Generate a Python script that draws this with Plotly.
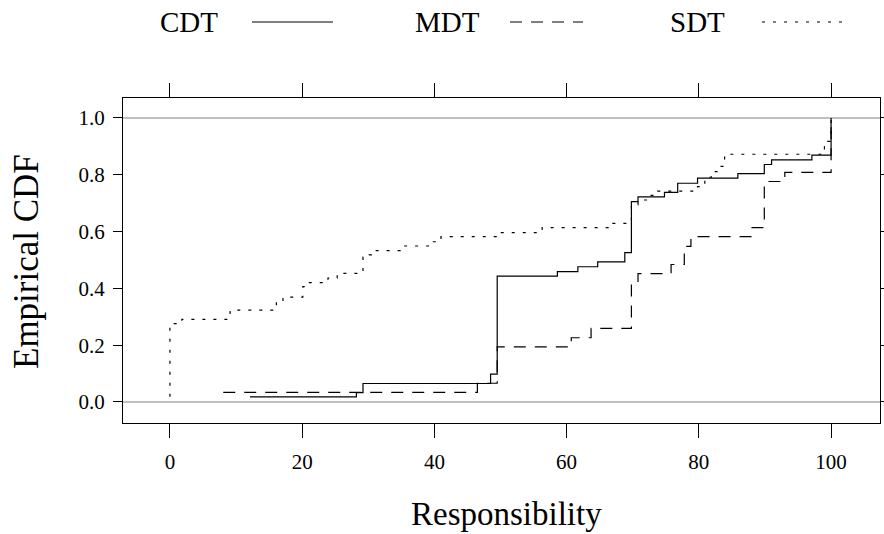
import plotly.graph_objects as go

# ECDF step points (x = responsibility, F = cumulative proportion)
cdt_x = [12.1, 28.2, 29.2, 48.5, 49.5, 58.6, 61.7, 64.7, 68.8, 69.8, 70.8, 74.8, 76.8, 79.8, 85.9, 89.9, 91.0, 97.1, 100.0]
cdt_F = [0.018, 0.033, 0.065, 0.098, 0.443, 0.459, 0.476, 0.493, 0.526, 0.705, 0.722, 0.738, 0.770, 0.788, 0.804, 0.836, 0.852, 0.869, 1.0]

mdt_x = [8.06, 46.5, 49.5, 60.7, 63.7, 69.8, 70.8, 75.8, 77.8, 78.8, 87.9, 89.9, 93.0, 100.0]
mdt_F = [0.034, 0.066, 0.194, 0.226, 0.259, 0.420, 0.452, 0.484, 0.548, 0.582, 0.614, 0.776, 0.808, 1.0]

sdt_x = [0.0, 0.0, 1.8, 9.1, 16.1, 17.1, 20.1, 20.5, 23.9, 25.3, 29.2, 30.1, 31.0, 35.4, 39.5, 40.4, 41.0,
         49.6, 56.3, 66.5, 69.8, 70.8, 72.5, 73.8, 79.8, 80.9, 81.9, 82.9, 83.9, 99.0, 99.5, 100.0]
sdt_F = [0.018, 0.276, 0.291, 0.323, 0.353, 0.369, 0.406, 0.420, 0.436, 0.453, 0.510, 0.518, 0.533, 0.549, 0.564, 0.576, 0.582,
         0.596, 0.614, 0.629, 0.694, 0.711, 0.727, 0.742, 0.758, 0.791, 0.811, 0.829, 0.872, 0.899, 0.917, 1.0]

series_names = ["CDT", "MDT", "SDT"]
x_ticks = [0, 20, 40, 60, 80, 100]
y_ticks = [0.0, 0.2, 0.4, 0.6, 0.8, 1.0]
y_tick_labels = ["0.0", "0.2", "0.4", "0.6", "0.8", "1.0"]

W, H = 884, 534
L, R, T, B = 123, 4, 98, 111
FONT = "Liberation Serif"

styles = {"CDT": "solid", "MDT": "12px,9px", "SDT": "3px,8px"}
data = {"CDT": (cdt_x, cdt_F), "MDT": (mdt_x, mdt_F), "SDT": (sdt_x, sdt_F)}

fig = go.Figure()
for name in series_names:
    xs, fs = data[name]
    fig.add_trace(go.Scatter(x=xs, y=fs, mode="lines", name=name, line_shape="hv",
                             line=dict(color="black", width=1.2, dash=styles[name]),
                             showlegend=False, hoverinfo="skip"))

# reference lines at 0 and 1
for yv in (0, 1):
    fig.add_shape(type="line", xref="paper", yref="y", x0=0, x1=1, y0=yv, y1=yv,
                  line=dict(color="#ababab", width=1.5), layer="below")

pw = W - L - R
ph = H - T - B
def px(xp):
    return (xp - L) / pw
def py(yp):
    return (H - B - yp) / ph

# key at the top
key = [("CDT", 189, 252, 333), ("MDT", 447, 510, 583), ("SDT", 697, 762, 843)]
for name, tx, lx0, lx1 in key:
    fig.add_annotation(text=name, x=px(tx), y=py(22), xref="paper", yref="paper",
                       showarrow=False, xanchor="center", yanchor="middle",
                       font=dict(family=FONT, size=29, color="black"))
    fig.add_shape(type="line", xref="paper", yref="paper", x0=px(lx0), x1=px(lx1),
                  y0=py(22), y1=py(22), line=dict(color="black", width=1.2, dash=styles[name]))

fig.add_annotation(text="Responsibility", x=px(506), y=py(514), xref="paper", yref="paper",
                   showarrow=False, xanchor="center", yanchor="middle",
                   font=dict(family=FONT, size=33, color="black"))
fig.add_annotation(text="Empirical CDF", x=px(26), y=py(261), xref="paper", yref="paper",
                   showarrow=False, xanchor="center", yanchor="middle", textangle=-90,
                   font=dict(family=FONT, size=35, color="black"))

fig.update_layout(
    width=W, height=H, autosize=False,
    margin=dict(l=L, r=R, t=T, b=B),
    paper_bgcolor="white", plot_bgcolor="white",
    font=dict(family=FONT, color="black"),
    xaxis=dict(range=[-7.1, 107.4], tickvals=x_ticks, ticks="outside", ticklen=14,
               tickcolor="black", tickwidth=1, showline=True, linecolor="black", linewidth=1,
               mirror="ticks", showgrid=False, zeroline=False, automargin=False,
               tickfont=dict(family=FONT, size=21, color="black"), ticklabelstandoff=6),
    yaxis=dict(range=[-0.074, 1.070], tickvals=y_ticks, ticktext=y_tick_labels, ticks="outside",
               ticklen=9, tickcolor="black", tickwidth=1, showline=True, linecolor="black",
               linewidth=1, mirror="ticks", showgrid=False, zeroline=False, automargin=False,
               tickfont=dict(family=FONT, size=21, color="black"), ticklabelstandoff=4),
)

fig.write_html("out.html", config={"displayModeBar": False},
               post_script="document.body.style.margin='0';document.body.style.overflow='hidden';")
